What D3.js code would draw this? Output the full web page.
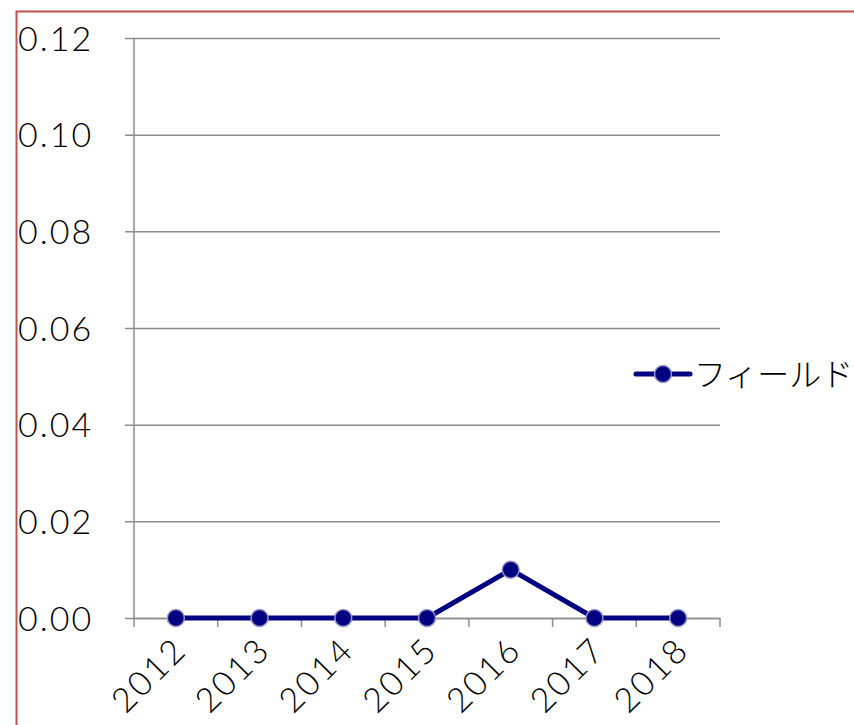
<!DOCTYPE html>
<html>
<head>
<meta charset="utf-8">
<script src="https://cdn.jsdelivr.net/npm/d3@7"></script>
<style>
  body { margin: 0; background: #fff; }
  text { font-family: Lato, "Noto Sans CJK JP", sans-serif; fill: #000; }
</style>
</head>
<body>
<div id="chart"></div>
<script>
// Datos del gráfico
let years = ['2012', '2013', '2014', '2015', '2016', '2017', '2018'];
let values = [0, 0, 0, 0, 0.01, 0, 0];
let y_ticks = [0, 0.02, 0.04, 0.06, 0.08, 0.10, 0.12];
let series_name = 'フィールド';

let width = 854;
let height = 725;
let m_left = 134, m_right = 720, m_top = 38, m_bottom = 618;

let svg = d3.select('#chart')
    .append('svg')
    .attr('width', width)
    .attr('height', height);

// marco rojo
svg.append('path')
    .attr('d', 'M16.5,' + height + ' L16.5,11.5 L' + width + ',11.5')
    .attr('fill', 'none')
    .attr('stroke', '#c0504d')
    .attr('stroke-width', 2);

// escalas
let x_scale = d3.scaleBand()
    .domain(years)
    .range([m_left, m_right]);

let y_scale = d3.scaleLinear()
    .domain([0, 0.12])
    .range([m_bottom, m_top]);

// grid + eje y
let y_axis = d3.axisLeft(y_scale)
    .tickValues(y_ticks)
    .tickSize(-(m_right - m_left))
    .tickFormat(d3.format('.2f'));

let gy = svg.append('g')
    .attr('transform', 'translate(' + m_left + ',0)')
    .call(y_axis);
gy.select('.domain').remove();
gy.selectAll('.tick line')
    .attr('x1', -9)
    .attr('stroke', '#8c8c8c')
    .attr('stroke-width', 1.5);
gy.selectAll('.tick text')
    .attr('x', -116)
    .attr('dy', '0.36em')
    .attr('text-anchor', 'start')
    .style('font-size', '34px')
    .style('font-weight', 300)
    .style('letter-spacing', '2px');

// linea vertical del eje
svg.append('line')
    .attr('x1', m_left).attr('x2', m_left)
    .attr('y1', m_top).attr('y2', m_bottom + 9)
    .attr('stroke', '#8c8c8c')
    .attr('stroke-width', 1.5);

// eje x
let x_axis = d3.axisBottom(x_scale).tickSize(0).tickFormat(d => d);
let gx = svg.append('g')
    .attr('transform', 'translate(0,' + m_bottom + ')')
    .call(x_axis);
gx.select('.domain')
    .attr('stroke', '#8c8c8c')
    .attr('stroke-width', 1.5);
gx.selectAll('.tick text')
    .attr('text-anchor', 'end')
    .attr('transform', 'translate(-4,17) rotate(-45)')
    .attr('y', 0)
    .attr('dy', '0.7em')
    .style('font-size', '34px')
    .style('font-weight', 300)
    .style('letter-spacing', '2.5px');

// marcas entre categorias
svg.append('g').selectAll('line')
    .data(years.slice(1).concat(['end']))
    .enter()
    .append('line')
    .attr('x1', (d, i) => m_left + x_scale.step() * (i + 1))
    .attr('x2', (d, i) => m_left + x_scale.step() * (i + 1))
    .attr('y1', m_bottom)
    .attr('y2', m_bottom + 9)
    .attr('stroke', '#8c8c8c')
    .attr('stroke-width', 1.5);

// linea
let line = d3.line()
    .x((d, i) => x_scale(years[i]) + x_scale.bandwidth() / 2)
    .y(d => y_scale(d));

svg.append('path')
    .datum(values)
    .attr('d', line)
    .attr('fill', 'none')
    .attr('stroke', '#000080')
    .attr('stroke-width', 5);

// puntos
svg.append('g').selectAll('circle')
    .data(values)
    .enter()
    .append('circle')
    .attr('cx', (d, i) => x_scale(years[i]) + x_scale.bandwidth() / 2)
    .attr('cy', d => y_scale(d))
    .attr('r', 8.5)
    .attr('fill', '#000080')
    .attr('stroke', '#9a96c8')
    .attr('stroke-width', 1.5);

// leyenda
let legend = svg.append('g').attr('transform', 'translate(636,374)');
legend.append('line')
    .attr('x1', 0).attr('x2', 54)
    .attr('stroke', '#000080')
    .attr('stroke-width', 5)
    .attr('stroke-linecap', 'round');
legend.append('circle')
    .attr('cx', 27).attr('r', 8.5)
    .attr('fill', '#000080')
    .attr('stroke', '#9a96c8')
    .attr('stroke-width', 1.5);
legend.append('text')
    .attr('x', 58)
    .attr('dy', '0.36em')
    .style('font-family', '"Noto Sans CJK JP", sans-serif')
    .style('font-size', '32px')
    .style('font-weight', 300)
    .text(series_name);
</script>
</body>
</html>
